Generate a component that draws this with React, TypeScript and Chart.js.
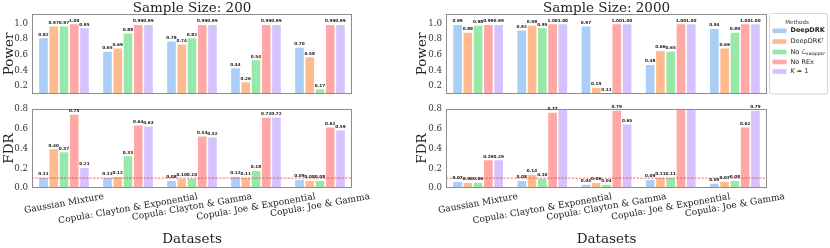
import React, { useEffect, useRef } from "react";
import { Chart, registerables } from "chart.js";

Chart.register(...registerables);

const W = 830;
const H = 248;

// ---------- DATA ----------
const categories = [
  "Gaussian Mixture",
  "Copula: Clayton & Exponential",
  "Copula: Clayton & Gamma",
  "Copula: Joe & Exponential",
  "Copula: Joe & Gamma",
];
const methodNames = ["DeepDRK", "DeepDRK†", "No Lswapper", "No REx", "K = 1"];
const methodColors = [
  "rgba(161,201,244,0.9)",
  "rgba(255,180,130,0.9)",
  "rgba(141,229,161,0.9)",
  "rgba(255,159,155,0.9)",
  "rgba(208,187,255,0.9)",
];

// rows = methods (DeepDRK, DeepDRK†, No Lswapper, No REx, K=1), cols = categories
const power200: number[][] = [
  [0.82, 0.65, 0.78, 0.44, 0.7],
  [0.97, 0.69, 0.74, 0.26, 0.58],
  [0.97, 0.88, 0.82, 0.54, 0.17],
  [1.0, 0.99, 0.99, 0.99, 0.99],
  [0.95, 0.99, 0.99, 0.99, 0.99],
];
const fdr200: number[][] = [
  [0.11, 0.11, 0.08, 0.12, 0.09],
  [0.4, 0.12, 0.1, 0.11, 0.08],
  [0.37, 0.33, 0.1, 0.18, 0.08],
  [0.75, 0.64, 0.53, 0.72, 0.62],
  [0.21, 0.63, 0.52, 0.72, 0.59],
];
const power2000: number[][] = [
  [0.99, 0.92, 0.97, 0.48, 0.94],
  [0.89, 0.98, 0.19, 0.66, 0.69],
  [0.98, 0.95, 0.11, 0.65, 0.89],
  [0.99, 1.0, 1.0, 1.0, 1.0],
  [0.99, 1.0, 1.0, 1.0, 1.0],
];
const fdr2000: number[][] = [
  [0.07, 0.08, 0.04, 0.09, 0.05],
  [0.06, 0.14, 0.06, 0.11, 0.07],
  [0.06, 0.1, 0.04, 0.11, 0.08],
  [0.29, 0.77, 0.79, 0.86, 0.62],
  [0.29, 0.85, 0.65, 0.86, 0.79],
];

const powerTicks = [0.2, 0.4, 0.6, 0.8, 1.0];
const fdrTicks = [0.0, 0.1, 0.2, 0.3, 0.4, 0.5, 0.6, 0.7, 0.8];
const powerRange = [0.1, 1.12];
const fdrRange = [0.0, 0.8];
const fdrTarget = 0.1;

// ---------- LAYOUT ----------
const YW = 30;
const SERIF = "'DejaVu Serif', serif";
const SANS = "'DejaVu Sans', sans-serif";

type Panel = {
  values: number[][];
  ticks: number[];
  range: number[];
  left: number;
  right: number;
  top: number;
  bottom: number;
  yLabel: string;
  yLabelX: number;
  title?: string;
  bottomRow: boolean;
  target?: number;
  legend?: boolean;
};

const panels: Panel[] = [
  { values: power200, ticks: powerTicks, range: powerRange, left: 32, right: 352, top: 14, bottom: 94, yLabel: "Power", yLabelX: 12.5, title: "Sample Size: 200", bottomRow: false },
  { values: power2000, ticks: powerTicks, range: powerRange, left: 446, right: 767, top: 14, bottom: 94, yLabel: "Power", yLabelX: 425.5, title: "Sample Size: 2000", bottomRow: false, legend: true },
  { values: fdr200, ticks: fdrTicks, range: fdrRange, left: 32, right: 352, top: 109, bottom: 188, yLabel: "FDR", yLabelX: 12.5, bottomRow: true, target: fdrTarget },
  { values: fdr2000, ticks: fdrTicks, range: fdrRange, left: 446, right: 767, top: 109, bottom: 188, yLabel: "FDR", yLabelX: 425.5, bottomRow: true, target: fdrTarget },
];

type Seg = { t: string; bold?: boolean; italic?: boolean; size?: number; dy?: number };
const legendParts: Seg[][] = [
  [{ t: "DeepDRK", bold: true }],
  [{ t: "DeepDRK" }, { t: "†", size: 4.5, dy: -2 }],
  [{ t: "No " }, { t: "ℒ", italic: true }, { t: "swapper", italic: true, size: 4.5, dy: 1.6 }],
  [{ t: "No REx" }],
  [{ t: "K", italic: true }, { t: " = 1" }],
];

function drawLegend(ctx: CanvasRenderingContext2D) {
  const x0 = 769.5, y0 = 13.5, w = 58, h = 80.5;
  ctx.save();
  ctx.fillStyle = "#ffffff";
  ctx.strokeStyle = "#cccccc";
  ctx.lineWidth = 0.8;
  ctx.beginPath();
  (ctx as any).roundRect(x0, y0, w, h, 2);
  ctx.fill();
  ctx.stroke();
  ctx.fillStyle = "#333";
  ctx.font = `5.5px ${SANS}`;
  ctx.textAlign = "center";
  ctx.textBaseline = "middle";
  ctx.fillText("Methods", 797, 22.3);
  const ys = [30.8, 41.5, 52, 62, 71.5];
  legendParts.forEach((parts, i) => {
    ctx.fillStyle = methodColors[i];
    ctx.fillRect(772.5, ys[i] - 2.3, 14, 4.6);
    let x = 790.5;
    ctx.textAlign = "left";
    ctx.textBaseline = "middle";
    ctx.fillStyle = "#222";
    parts.forEach((s) => {
      const size = s.size ?? 6.5;
      ctx.font = `${s.italic ? "italic " : ""}${s.bold ? "bold " : ""}${size}px ${SANS}`;
      ctx.fillText(s.t, x, ys[i] + (s.dy ?? 0));
      x += ctx.measureText(s.t).width;
    });
  });
  ctx.restore();
}

function panelPlugin(p: Panel) {
  return {
    id: "panelDecor",
    afterDatasetsDraw(chart: any) {
      const ctx: CanvasRenderingContext2D = chart.ctx;
      const ca = chart.chartArea;
      const yScale = chart.scales.y;
      const xScale = chart.scales.x;
      ctx.save();
      // target line
      if (p.target !== undefined) {
        const ty = yScale.getPixelForValue(p.target);
        ctx.strokeStyle = "rgba(225,40,40,0.85)";
        ctx.lineWidth = 0.8;
        ctx.setLineDash([2.2, 1.4]);
        ctx.beginPath();
        ctx.moveTo(ca.left, ty);
        ctx.lineTo(ca.right, ty);
        ctx.stroke();
        ctx.setLineDash([]);
      }
      // frame
      ctx.strokeStyle = "#8c8c8c";
      ctx.lineWidth = 1;
      ctx.strokeRect(ca.left + 0.5, ca.top + 0.5, ca.right - ca.left - 1, ca.bottom - ca.top - 1);
      // bar value labels
      ctx.fillStyle = "#222";
      ctx.font = `bold 4.2px ${SANS}`;
      ctx.textAlign = "center";
      ctx.textBaseline = "bottom";
      p.values.forEach((row, i) => {
        const meta = chart.getDatasetMeta(i);
        row.forEach((v, j) => {
          if (v > p.range[1]) return;
          const el = meta.data[j];
          ctx.fillText(v.toFixed(2), el.x, el.y - 0.8);
        });
      });
      // y label
      ctx.fillStyle = "#222";
      ctx.font = `13.5px ${SERIF}`;
      ctx.save();
      ctx.translate(p.yLabelX, (ca.top + ca.bottom) / 2);
      ctx.rotate(-Math.PI / 2);
      ctx.textAlign = "center";
      ctx.textBaseline = "alphabetic";
      ctx.fillText(p.yLabel, 0, 0);
      ctx.restore();
      // title
      if (p.title) {
        ctx.textAlign = "center";
        ctx.textBaseline = "alphabetic";
        ctx.fillText(p.title, (ca.left + ca.right) / 2, 12);
      }
      if (p.bottomRow) {
        // x tick labels rotated, center aligned (matplotlib style)
        const th = (10 * Math.PI) / 180;
        ctx.font = `9px ${SERIF}`;
        categories.forEach((c, j) => {
          const x = xScale.getPixelForValue(j);
          const tw = ctx.measureText(c).width;
          const tH = 9 * 1.15;
          const bh = tw * Math.sin(th) + tH * Math.cos(th);
          const cy = ca.bottom + 3.5 + bh / 2;
          ctx.save();
          ctx.translate(x, cy);
          ctx.rotate(-th);
          ctx.textAlign = "center";
          ctx.textBaseline = "middle";
          ctx.fillText(c, 0, 0);
          ctx.restore();
        });
        ctx.font = `13.5px ${SERIF}`;
        ctx.textAlign = "center";
        ctx.textBaseline = "alphabetic";
        ctx.fillText("Datasets", (ca.left + ca.right) / 2, 243);
      }
      if (p.legend) drawLegend(ctx);
      ctx.restore();
    },
  };
}

function buildChart(canvas: HTMLCanvasElement, p: Panel) {
  return new Chart(canvas, {
    type: "bar",
    data: {
      labels: categories,
      datasets: methodNames.map((m, i) => ({
        label: m,
        data: p.values[i],
        backgroundColor: methodColors[i],
        borderColor: "#ffffff",
        borderWidth: 0.8,
        borderSkipped: false,
        categoryPercentage: 0.8,
        barPercentage: 1.0,
      })),
    },
    options: {
      responsive: false,
      animation: false,
      devicePixelRatio: 1,
      layout: {
        padding: { left: p.left - YW, right: W - p.right, top: p.top, bottom: H - p.bottom },
      },
      plugins: { legend: { display: false }, tooltip: { enabled: false }, title: { display: false } },
      scales: {
        x: { display: false, offset: true, grid: { display: false } },
        y: {
          min: p.range[0],
          max: p.range[1],
          afterBuildTicks: (s: any) => {
            s.ticks = p.ticks.map((v) => ({ value: v }));
          },
          afterFit: (s: any) => {
            s.width = YW;
          },
          grid: { display: false, drawTicks: false },
          border: { display: false },
          ticks: {
            padding: 4,
            color: "#333",
            font: { family: SERIF, size: 8.7 },
            callback: (v: any) => Number(v).toFixed(1),
          },
        },
      },
    } as any,
    plugins: [panelPlugin(p)],
  });
}

export default function App() {
  const refs = useRef<(HTMLCanvasElement | null)[]>([]);
  useEffect(() => {
    const charts = panels.map((p, i) => buildChart(refs.current[i] as HTMLCanvasElement, p));
    return () => charts.forEach((c) => c.destroy());
  }, []);
  return (
    <div style={{ position: "fixed", left: 0, top: 0, width: W, height: H, background: "#fff" }}>
      {panels.map((_, i) => (
        <canvas
          key={i}
          ref={(el) => {
            refs.current[i] = el;
          }}
          width={W}
          height={H}
          style={{ position: "absolute", left: 0, top: 0 }}
        />
      ))}
    </div>
  );
}
